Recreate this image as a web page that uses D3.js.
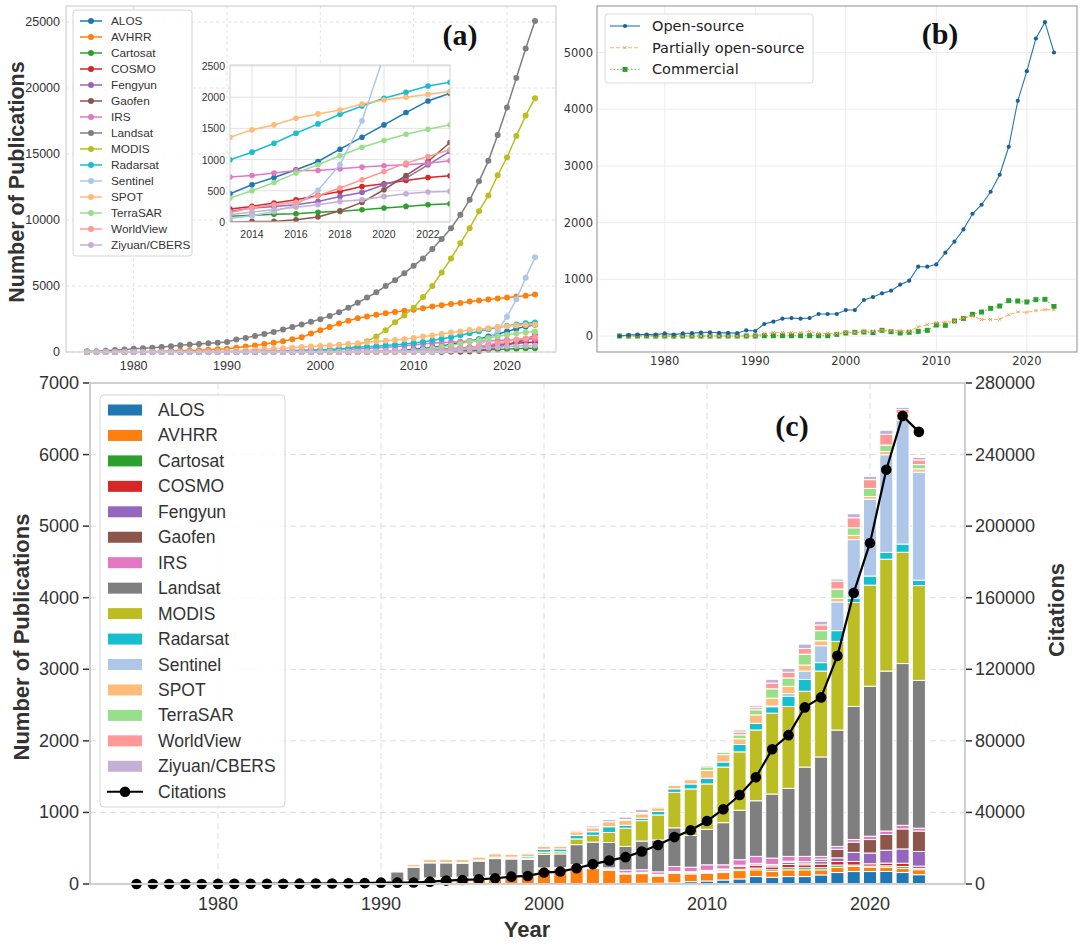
<!DOCTYPE html>
<html><head><meta charset="utf-8">
<script src="https://cdn.jsdelivr.net/npm/d3@7"></script>
<style>body{margin:0;background:#fff}</style>
</head><body>
<svg id="chart" width="1080" height="949" xmlns="http://www.w3.org/2000/svg"></svg>
<script>
// ---------------- DATA ----------------
const sensors = ["ALOS","AVHRR","Cartosat","COSMO","Fengyun","Gaofen","IRS","Landsat","MODIS","Radarsat","Sentinel","SPOT","TerraSAR","WorldView","Ziyuan/CBERS"];
const colors = ["#1f77b4","#ff7f0e","#2ca02c","#d62728","#9467bd","#8c564b","#e377c2","#7f7f7f","#bcbd22","#17becf","#aec7e8","#ffbb78","#98df8a","#ff9896","#c5b0d5"];
const years = [1975,1976,1977,1978,1979,1980,1981,1982,1983,1984,1985,1986,1987,1988,1989,1990,1991,1992,1993,1994,1995,1996,1997,1998,1999,2000,2001,2002,2003,2004,2005,2006,2007,2008,2009,2010,2011,2012,2013,2014,2015,2016,2017,2018,2019,2020,2021,2022,2023];

// (a) cumulative publications per sensor, 1975-2023
const cumALOS = [0,0,0,0,0,0,0,0,0,0,0,0,0,0,0,0,0,0,0,0,0,0,0,0,0,0,0,0,0,0,0,15,45,90,140,200,270,350,453,597,714,837,970,1167,1359,1556,1754,1940,2063];
const cumAVHRR = [0,0,5,10,15,20,30,40,55,70,90,110,140,170,200,240,330,420,500,600,700,820,960,1110,1400,1650,1900,2150,2370,2550,2690,2820,2930,3030,3120,3210,3320,3440,3540,3630,3720,3820,3900,3980,4060,4130,4200,4270,4350];
const cumCartosat = [0,0,0,0,0,0,0,0,0,0,0,0,0,0,0,0,0,0,0,0,0,0,0,0,0,0,0,0,0,0,5,15,25,35,45,55,65,78,91,107,123,133,155,171,197,224,250,277,293];
const cumCOSMO = [0,0,0,0,0,0,0,0,0,0,0,0,0,0,0,0,0,0,0,0,0,0,0,0,0,0,0,0,0,0,0,0,5,15,35,60,100,150,208,250,304,357,426,490,570,613,666,714,741];
const cumFengyun = [0,0,0,0,0,0,0,0,0,0,0,0,0,0,0,0,0,0,0,0,0,0,0,0,0,5,10,15,20,30,40,50,65,80,95,110,125,145,171,224,250,277,330,410,474,597,704,917,1130];
const cumGaofen = [0,0,0,0,0,0,0,0,0,0,0,0,0,0,0,0,0,0,0,0,0,0,0,0,0,0,0,0,0,0,0,0,0,0,0,0,0,0,0,10,10,37,80,181,314,517,746,970,1274];
const cumIRS = [0,0,0,0,0,0,0,0,0,0,0,0,0,5,15,25,30,40,55,70,85,100,115,130,145,160,175,190,210,230,270,305,340,410,470,540,600,660,720,746,784,826,826,853,880,901,917,943,981];
const cumLandsat = [50,50,100,150,180,250,280,330,380,430,510,560,610,660,710,760,940,1070,1220,1370,1520,1700,1900,2080,2290,2490,2720,3020,3350,3730,4120,4520,5000,5440,5970,6530,7090,7800,8560,9380,10390,11530,12930,14480,16440,18520,20760,22990,25070];
const cumMODIS = [0,0,0,0,0,0,0,0,0,0,0,0,0,0,0,0,0,0,0,0,0,0,0,0,10,40,80,150,250,500,820,1180,1650,2260,2770,3350,4170,5000,6020,7090,8230,9380,10670,11860,13390,14740,16360,17910,19230];
const cumRadarsat = [0,0,0,0,0,0,0,0,0,0,0,0,0,0,0,0,0,5,10,15,25,40,60,80,105,145,185,235,285,365,405,440,490,540,610,690,760,870,997,1119,1263,1423,1572,1727,1860,1983,2079,2180,2239];
const cumSentinel = [0,0,0,0,0,0,0,0,0,0,0,0,0,0,0,0,0,0,0,0,0,0,0,0,0,0,0,0,0,0,0,0,0,0,0,0,0,0,60,100,170,270,510,920,1620,2670,3990,5630,7170];
const cumSPOT = [0,0,0,0,0,0,0,0,0,0,0,5,15,30,50,75,95,125,165,205,245,285,330,370,410,455,495,545,600,670,740,800,850,900,960,1070,1170,1250,1359,1477,1556,1663,1732,1796,1892,1956,1999,2047,2090];
const cumTerraSAR = [0,0,0,0,0,0,0,0,0,0,0,0,0,0,0,0,0,0,0,0,0,0,0,0,0,0,0,0,0,0,0,0,10,30,60,110,170,270,384,501,634,784,917,1061,1199,1306,1407,1487,1557];
const cumWorldView = [0,0,0,0,0,0,0,0,0,0,0,0,0,0,0,0,0,0,0,0,0,0,0,0,0,0,0,0,0,0,0,0,0,5,15,30,50,90,150,230,277,315,421,544,677,810,943,1050,1157];
const cumZiyuan = [0,0,0,0,0,0,0,0,0,0,0,0,0,0,0,0,0,0,0,0,0,0,0,0,0,5,10,20,30,40,50,60,70,80,88,96,104,110,117,160,197,235,277,330,357,410,453,480,490];
const cumSeries = [cumALOS,cumAVHRR,cumCartosat,cumCOSMO,cumFengyun,cumGaofen,cumIRS,cumLandsat,cumMODIS,cumRadarsat,cumSentinel,cumSPOT,cumTerraSAR,cumWorldView,cumZiyuan];

// (b) publications by access type, 1975-2023
const openSource = [0,18,25,25,25,45,25,45,50,60,65,55,55,50,100,88,212,253,306,317,306,317,388,388,388,458,458,635,687,752,799,905,975,1222,1222,1263,1469,1663,1880,2156,2315,2544,2844,3337,4148,4671,5247,5535,5000];
const partialOpen = [0,0,0,0,0,0,0,0,0,0,0,0,0,0,0,0,47,60,60,60,60,80,47,47,47,60,65,76,88,100,100,94,88,160,200,235,245,260,320,350,290,290,295,375,425,418,450,465,465];
const commercial = [0,0,0,0,0,0,0,0,0,0,0,0,0,0,0,0,5,5,5,5,5,5,5,5,29,53,65,70,59,100,76,53,65,82,100,194,188,265,311,382,423,488,529,623,617,600,641,647,520];

// (c) yearly publications per sensor, 1991-2023
const barYears = [1991,1992,1993,1994,1995,1996,1997,1998,1999,2000,2001,2002,2003,2004,2005,2006,2007,2008,2009,2010,2011,2012,2013,2014,2015,2016,2017,2018,2019,2020,2021,2022,2023];
const yrALOS = [0,0,0,0,0,0,0,0,0,0,0,0,0,0,0,10,10,15,33,42,56,71,104,94,104,104,127,160,174,174,175,160,130];
const yrAVHRR = [25,40,70,75,80,85,100,110,120,210,215,255,215,190,140,135,100,135,108,109,104,117,94,80,94,94,71,75,71,61,60,60,70];
const yrCartosat = [0,0,0,0,0,0,0,0,0,0,0,0,0,10,10,10,10,10,10,10,15,20,25,25,30,30,30,30,20,15,20,25,20];
const yrCOSMO = [0,0,0,0,0,0,0,0,0,0,0,0,0,0,0,0,5,5,10,15,20,35,40,40,45,40,50,50,50,32,37,45,30];
const yrFengyun = [0,0,0,0,0,0,0,0,0,0,0,0,0,5,5,10,10,10,10,15,15,20,20,25,30,25,40,50,127,151,180,200,205];
const yrGaofen = [0,0,0,0,0,0,0,0,0,0,0,0,0,0,0,0,0,0,0,0,0,0,5,10,15,20,30,120,142,188,220,280,285];
const yrIRS = [5,10,15,15,15,15,15,15,15,15,15,15,20,20,40,35,35,70,64,77,58,76,98,88,68,73,38,40,37,47,48,50,40];
const yrLandsat = [140,185,210,205,195,220,240,225,210,190,190,280,350,355,330,400,445,540,443,495,589,692,777,895,951,1248,1389,1626,1860,2096,2235,2260,2065];
const yrMODIS = [0,0,0,0,0,0,0,5,10,30,30,80,95,140,255,285,350,495,650,635,777,815,989,1130,1144,1059,1200,1239,1453,1412,1563,1555,1325];
const yrRadarsat = [0,5,5,5,10,15,20,20,25,40,40,50,50,80,40,35,50,50,70,80,71,103,93,90,141,165,118,150,60,127,95,115,75];
const yrSentinel = [0,0,0,0,0,0,0,0,0,0,0,0,0,0,0,0,0,0,0,0,0,0,0,10,40,118,236,401,818,1074,1365,1730,1510];
const yrSPOT = [15,30,40,40,40,40,45,40,40,45,40,50,55,70,70,60,50,50,60,109,103,80,118,110,100,84,70,50,60,37,45,40,45];
const yrTerraSAR = [0,0,0,0,0,0,0,0,0,0,0,0,0,0,10,15,20,15,10,50,35,55,71,130,117,151,141,130,105,113,90,50,60];
const yrWorldView = [0,0,0,0,0,0,0,0,0,0,0,0,0,0,0,5,10,5,5,20,15,40,30,80,80,79,80,110,140,123,150,60,65];
const yrZiyuan = [0,0,0,0,0,0,0,0,0,10,10,20,25,30,35,40,15,15,5,10,11,28,26,53,54,62,52,30,57,47,57,30,35];
const yearlySeries = [yrALOS,yrAVHRR,yrCartosat,yrCOSMO,yrFengyun,yrGaofen,yrIRS,yrLandsat,yrMODIS,yrRadarsat,yrSentinel,yrSPOT,yrTerraSAR,yrWorldView,yrZiyuan];

// (c) citations, 1975-2023
const citations = [0,10,20,30,40,60,80,100,130,160,200,250,300,380,500,750,750,800,1300,1900,2250,2600,3200,4100,4500,6400,6950,8800,11100,13100,15000,18200,21800,26200,30000,35200,41800,49700,59700,75300,83200,98700,104300,127500,162700,190600,231500,261600,252700];

// tick values
const decadeTicks = [1980,1990,2000,2010,2020];
const ticksA = [0,5000,10000,15000,20000,25000];
const insetXTicks = [2014,2016,2018,2020,2022];
const insetYTicks = [0,500,1000,1500,2000,2500];
const ticksB = [0,1000,2000,3000,4000,5000];
const ticksC = [0,1000,2000,3000,4000,5000,6000,7000];
const ticksCR = [0,40000,80000,120000,160000,200000,240000,280000];

// ---------------- DRAWING ----------------
const svg = d3.select("#chart");
const SANS = "'Liberation Sans', Arial, sans-serif";
const DJV = "'DejaVu Sans', sans-serif";
const SERIF = "'Liberation Serif', 'Times New Roman', serif";
const defs = svg.append("defs");

// ===== Panel (a) =====
{
  const L=66,R=556,T=6,B=352;
  const x = d3.scaleLinear().domain([1975,2023]).range([87,535]);
  const y = d3.scaleLinear().domain([0,25000]).range([352,22]);
  const g = svg.append("g");
  g.append("rect").attr("x",L).attr("y",T).attr("width",R-L).attr("height",B-T).attr("fill","#fff");
  decadeTicks.forEach(t=>g.append("line").attr("x1",x(t)).attr("x2",x(t)).attr("y1",T).attr("y2",B)
     .attr("stroke","#dedede").attr("stroke-dasharray","3,3").attr("stroke-width",0.9));
  ticksA.forEach(t=>g.append("line").attr("x1",L).attr("x2",R).attr("y1",y(t)).attr("y2",y(t))
     .attr("stroke","#dedede").attr("stroke-dasharray","3,3").attr("stroke-width",0.9));
  const line = d3.line().x((d,i)=>x(years[i])).y(d=>y(d));
  cumSeries.forEach((s,k)=>{
    g.append("path").attr("d",line(s)).attr("fill","none").attr("stroke",colors[k]).attr("stroke-width",1.5);
    g.selectAll(null).data(s).enter().append("circle").attr("cx",(d,i)=>x(years[i])).attr("cy",d=>y(d))
      .attr("r",3).attr("fill",colors[k]);
  });
  g.append("rect").attr("x",L).attr("y",T).attr("width",R-L).attr("height",B-T).attr("fill","none").attr("stroke","#cfcfcf").attr("stroke-width",1.2);
  ticksA.forEach(t=>g.append("text").attr("x",L-6).attr("y",y(t)).attr("text-anchor","end").attr("dominant-baseline","central")
     .attr("font-family",SANS).attr("font-size",12.5).attr("fill","#333").text(t));
  decadeTicks.forEach(t=>g.append("text").attr("x",x(t)).attr("y",366).attr("text-anchor","middle").attr("dominant-baseline","central")
     .attr("font-family",SANS).attr("font-size",12.5).attr("fill","#333").text(t));
  g.append("text").attr("transform","translate(17,182) rotate(-90)").attr("text-anchor","middle").attr("dominant-baseline","central")
     .attr("font-family",SANS).attr("font-weight","bold").attr("font-size",21.5).attr("fill","#333").text("Number of Publications");
  g.append("text").attr("x",460).attr("y",34).attr("text-anchor","middle").attr("dominant-baseline","central")
     .attr("font-family",SERIF).attr("font-weight","bold").attr("font-size",30).attr("fill","#111").text("(a)");
  // legend
  const lg = g.append("g");
  lg.append("rect").attr("x",73).attr("y",10).attr("width",119).attr("height",246).attr("rx",3)
    .attr("fill","#fff").attr("fill-opacity",0.85).attr("stroke","#d5d5d5");
  sensors.forEach((s,k)=>{
    const yy = 21 + k*16;
    lg.append("line").attr("x1",80).attr("x2",102).attr("y1",yy).attr("y2",yy).attr("stroke",colors[k]).attr("stroke-width",1.5);
    lg.append("circle").attr("cx",91).attr("cy",yy).attr("r",3).attr("fill",colors[k]);
    lg.append("text").attr("x",111).attr("y",yy).attr("dominant-baseline","central").attr("font-family",SANS)
      .attr("font-size",11.8).attr("fill","#333").text(s);
  });
  // inset
  const IL=230,IR=450,IT=65,IB=222;
  const xi = d3.scaleLinear().domain([2013,2023]).range([IL,IR]);
  const yi = d3.scaleLinear().domain([0,2500]).range([IB,66]);
  const gi = g.append("g");
  defs.append("clipPath").attr("id","insetClip").append("rect").attr("x",IL).attr("y",IT).attr("width",IR-IL).attr("height",IB-IT);
  gi.append("rect").attr("x",IL).attr("y",IT).attr("width",IR-IL).attr("height",IB-IT).attr("fill","#fff");
  insetXTicks.forEach(t=>gi.append("line").attr("x1",xi(t)).attr("x2",xi(t)).attr("y1",IT).attr("y2",IB).attr("stroke","#e3e3e3").attr("stroke-width",1));
  insetYTicks.forEach(t=>gi.append("line").attr("x1",IL).attr("x2",IR).attr("y1",yi(t)).attr("y2",yi(t)).attr("stroke","#e3e3e3").attr("stroke-width",1));
  const cg = gi.append("g").attr("clip-path","url(#insetClip)");
  const iline = d3.line().defined((d,i)=>years[i]>=2012).x((d,i)=>xi(years[i])).y(d=>yi(d));
  cumSeries.forEach((s,k)=>{
    cg.append("path").attr("d",iline(s)).attr("fill","none").attr("stroke",colors[k]).attr("stroke-width",1.5);
    cg.selectAll(null).data(s.map((v,i)=>({v,yr:years[i]})).filter(d=>d.yr>=2013)).enter().append("circle")
      .attr("cx",d=>xi(d.yr)).attr("cy",d=>yi(d.v)).attr("r",2.8).attr("fill",colors[k]);
  });
  gi.append("rect").attr("x",IL).attr("y",IT).attr("width",IR-IL).attr("height",IB-IT).attr("fill","none").attr("stroke","#d0d0d0").attr("stroke-width",1);
  insetYTicks.forEach(t=>gi.append("text").attr("x",IL-5).attr("y",yi(t)).attr("text-anchor","end").attr("dominant-baseline","central")
     .attr("font-family",SANS).attr("font-size",10.5).attr("fill","#333").text(t));
  insetXTicks.forEach(t=>gi.append("text").attr("x",xi(t)).attr("y",234).attr("text-anchor","middle").attr("dominant-baseline","central")
     .attr("font-family",SANS).attr("font-size",10.5).attr("fill","#333").text(t));
}

// ===== Panel (b) =====
{
  const L=597,R=1077,T=6,B=352;
  const x = d3.scaleLinear().domain([1975,2023]).range([619.5,1054]);
  const y = d3.scaleLinear().domain([0,5000]).range([336,52.5]);
  const g = svg.append("g");
  decadeTicks.forEach(t=>g.append("line").attr("x1",x(t)).attr("x2",x(t)).attr("y1",T).attr("y2",B).attr("stroke","#ececec").attr("stroke-width",1));
  ticksB.forEach(t=>g.append("line").attr("x1",L).attr("x2",R).attr("y1",y(t)).attr("y2",y(t)).attr("stroke","#ececec").attr("stroke-width",1));
  const line = d3.line().x((d,i)=>x(years[i])).y(d=>y(d));
  g.append("path").attr("d",line(commercial)).attr("fill","none").attr("stroke","#2ca02c").attr("stroke-opacity",0.6).attr("stroke-width",1.2).attr("stroke-dasharray","1.5,2");
  g.selectAll(null).data(commercial).enter().append("rect").attr("x",(d,i)=>x(years[i])-2.5).attr("y",d=>y(d)-2.5).attr("width",5).attr("height",5).attr("fill","#2ca02c");
  g.append("path").attr("d",line(partialOpen)).attr("fill","none").attr("stroke","#ff7f0e").attr("stroke-opacity",0.6).attr("stroke-width",1.1).attr("stroke-dasharray","4,2");
  g.selectAll(null).data(partialOpen).enter().append("path")
    .attr("d",(d,i)=>{const cx=x(years[i]),cy=y(d),r=1.6;return `M${cx-r},${cy-r}L${cx+r},${cy+r}M${cx-r},${cy+r}L${cx+r},${cy-r}`;})
    .attr("stroke","#ff9f5a").attr("stroke-width",1);
  g.append("path").attr("d",line(openSource)).attr("fill","none").attr("stroke","#1f77b4").attr("stroke-width",1.1);
  g.selectAll(null).data(openSource).enter().append("circle").attr("cx",(d,i)=>x(years[i])).attr("cy",d=>y(d)).attr("r",2.1).attr("fill","#1f5f94");
  g.append("rect").attr("x",L).attr("y",T).attr("width",R-L).attr("height",B-T).attr("fill","none").attr("stroke","#a0a0a0").attr("stroke-width",1.2);
  ticksB.forEach(t=>g.append("text").attr("x",L-4).attr("y",y(t)).attr("text-anchor","end").attr("dominant-baseline","central")
     .attr("font-family",DJV).attr("font-size",11.5).attr("fill","#333").text(t));
  decadeTicks.forEach(t=>g.append("text").attr("x",x(t)).attr("y",361).attr("text-anchor","middle").attr("dominant-baseline","central")
     .attr("font-family",DJV).attr("font-size",11.5).attr("fill","#333").text(t));
  g.append("text").attr("x",940).attr("y",33).attr("text-anchor","middle").attr("dominant-baseline","central")
     .attr("font-family",SERIF).attr("font-weight","bold").attr("font-size",30).attr("fill","#111").text("(b)");
  const lg = g.append("g");
  lg.append("rect").attr("x",605).attr("y",14).attr("width",208).attr("height",69).attr("rx",3).attr("fill","#fff").attr("stroke","#dadada");
  const items = [
    {name:"Open-source",c:"#1f77b4",dash:null,m:"circle"},
    {name:"Partially open-source",c:"#ff7f0e",dash:"4,2",m:"x"},
    {name:"Commercial",c:"#2ca02c",dash:"1.5,2",m:"square"}];
  items.forEach((it,k)=>{
    const yy = 26 + k*21.7;
    const ln = lg.append("line").attr("x1",610).attr("x2",640).attr("y1",yy).attr("y2",yy).attr("stroke",it.c).attr("stroke-width",1.1)
      .attr("stroke-opacity",it.dash?0.6:1);
    if(it.dash) ln.attr("stroke-dasharray",it.dash);
    if(it.m==="circle") lg.append("circle").attr("cx",625).attr("cy",yy).attr("r",2.1).attr("fill","#1f5f94");
    if(it.m==="x") lg.append("path").attr("d",`M623.4,${yy-1.6}L626.6,${yy+1.6}M623.4,${yy+1.6}L626.6,${yy-1.6}`).attr("stroke","#ff9f5a");
    if(it.m==="square") lg.append("rect").attr("x",622.5).attr("y",yy-2.5).attr("width",5).attr("height",5).attr("fill","#2ca02c");
    lg.append("text").attr("x",652).attr("y",yy).attr("dominant-baseline","central").attr("font-family",DJV)
      .attr("font-size",14.5).attr("fill","#222").text(it.name);
  });
}

// ===== Panel (c) =====
{
  const L=90,R=965,T=383,B=884;
  const x = d3.scaleLinear().domain([1980,2020]).range([218,870]);
  const y = d3.scaleLinear().domain([0,7000]).range([B,T]);
  const yr = d3.scaleLinear().domain([0,280000]).range([B,T]);
  const g = svg.append("g");
  decadeTicks.forEach(t=>g.append("line").attr("x1",x(t)).attr("x2",x(t)).attr("y1",T).attr("y2",B)
     .attr("stroke","#dcdcdc").attr("stroke-dasharray","6,4").attr("stroke-width",1));
  ticksC.slice(1,7).forEach(t=>g.append("line").attr("x1",L).attr("x2",R).attr("y1",y(t)).attr("y2",y(t))
     .attr("stroke","#dcdcdc").attr("stroke-dasharray","6,4").attr("stroke-width",1));
  const rows = barYears.map((yrv,i)=>{const o={year:yrv}; sensors.forEach((s,k)=>o[s]=yearlySeries[k][i]); return o;});
  const stack = d3.stack().keys(sensors)(rows);
  const bw = x(0.8)-x(0);
  stack.forEach((layer,k)=>{
    g.selectAll(null).data(layer).enter().append("rect")
      .attr("x",d=>x(d.data.year-0.4)).attr("width",bw)
      .attr("y",d=>y(d[1])).attr("height",d=>Math.max(0,y(d[0])-y(d[1])))
      .attr("fill",colors[k]).attr("stroke","#fff").attr("stroke-width",1);
  });
  const cl = d3.line().x((d,i)=>x(years[i])).y(d=>yr(d));
  g.append("path").attr("d",cl(citations)).attr("fill","none").attr("stroke","#000").attr("stroke-width",2.2);
  g.selectAll(null).data(citations).enter().append("circle").attr("cx",(d,i)=>x(years[i])).attr("cy",d=>yr(d)).attr("r",5.3).attr("fill","#000");
  g.append("rect").attr("x",L).attr("y",T).attr("width",R-L).attr("height",B-T).attr("fill","none").attr("stroke","#cfcfcf").attr("stroke-width",2);
  ticksC.forEach(t=>{
    g.append("line").attr("x1",L-7).attr("x2",L-1).attr("y1",y(t)).attr("y2",y(t)).attr("stroke","#333").attr("stroke-width",1.5);
    g.append("text").attr("x",L-11).attr("y",y(t)).attr("text-anchor","end").attr("dominant-baseline","central")
     .attr("font-family",SANS).attr("font-size",18).attr("fill","#333").text(t);
  });
  ticksCR.forEach(t=>{
    g.append("line").attr("x1",R+1).attr("x2",R+7).attr("y1",yr(t)).attr("y2",yr(t)).attr("stroke","#333").attr("stroke-width",1.5);
    g.append("text").attr("x",R+10).attr("y",yr(t)).attr("text-anchor","start").attr("dominant-baseline","central")
     .attr("font-family",SANS).attr("font-size",18).attr("fill","#333").text(t);
  });
  decadeTicks.forEach(t=>g.append("text").attr("x",x(t)).attr("y",904).attr("text-anchor","middle").attr("dominant-baseline","central")
     .attr("font-family",SANS).attr("font-size",18).attr("fill","#333").text(t));
  g.append("text").attr("x",527).attr("y",929).attr("text-anchor","middle").attr("dominant-baseline","central")
     .attr("font-family",SANS).attr("font-weight","bold").attr("font-size",22).attr("fill","#333").text("Year");
  g.append("text").attr("transform","translate(21,637) rotate(-90)").attr("text-anchor","middle").attr("dominant-baseline","central")
     .attr("font-family",SANS).attr("font-weight","bold").attr("font-size",22).attr("fill","#333").text("Number of Publications");
  g.append("text").attr("transform","translate(1056,610) rotate(-90)").attr("text-anchor","middle").attr("dominant-baseline","central")
     .attr("font-family",SANS).attr("font-weight","bold").attr("font-size",22).attr("fill","#333").text("Citations");
  g.append("text").attr("x",792).attr("y",425).attr("text-anchor","middle").attr("dominant-baseline","central")
     .attr("font-family",SERIF).attr("font-weight","bold").attr("font-size",30).attr("fill","#111").text("(c)");
  const lg = g.append("g");
  lg.append("rect").attr("x",100).attr("y",395).attr("width",185).attr("height",412).attr("rx",4)
    .attr("fill","#fff").attr("fill-opacity",0.85).attr("stroke","#d5d5d5");
  sensors.forEach((s,k)=>{
    const yy = 410 + k*25.45;
    lg.append("rect").attr("x",108).attr("y",yy-5.5).attr("width",34).attr("height",11).attr("fill",colors[k]);
    lg.append("text").attr("x",158).attr("y",yy).attr("dominant-baseline","central").attr("font-family",SANS)
      .attr("font-size",17.5).attr("fill","#333").text(s);
  });
  const yy = 410 + 15*25.45;
  lg.append("line").attr("x1",107).attr("x2",143).attr("y1",yy).attr("y2",yy).attr("stroke","#000").attr("stroke-width",2.2);
  lg.append("circle").attr("cx",125).attr("cy",yy).attr("r",5.3).attr("fill","#000");
  lg.append("text").attr("x",158).attr("y",yy).attr("dominant-baseline","central").attr("font-family",SANS)
      .attr("font-size",17.5).attr("fill","#333").text("Citations");
}
</script>
</body></html>
